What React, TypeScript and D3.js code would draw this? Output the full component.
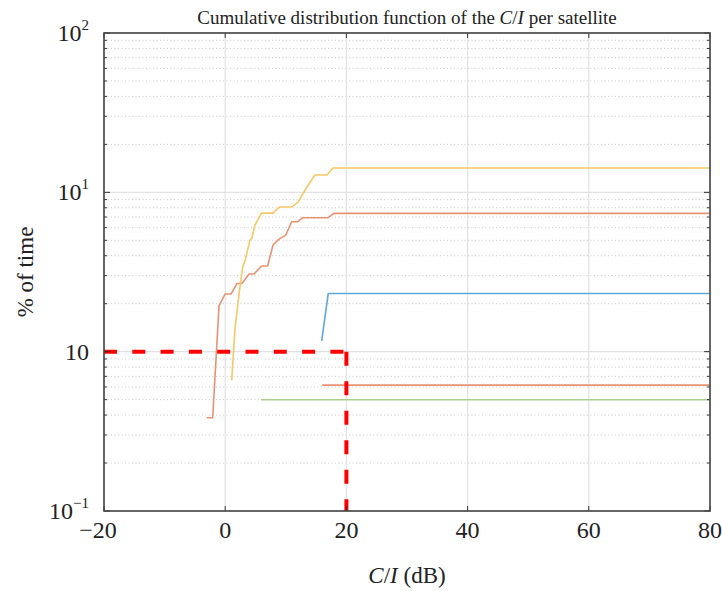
import React from "react";
import * as d3 from "d3";

const xTicks = [-20, 0, 20, 40, 60, 80];
const xTickLabels = ["−20", "0", "20", "40", "60", "80"];
const yTicks = [0.1, 1, 10, 100];
const yTickBase = ["10", "10", "10", "10"];
const yTickExp = ["−1", "", "1", "2"];

const yellowX = [1.07, 1.6, 2.3, 2.9, 3.3, 4.1, 4.4, 4.9, 6.0, 7.9, 8.9, 11.0, 12.0, 13.5, 14.8, 16.8, 17.8, 80];
const yellowY = [0.66, 1.37, 2.33, 3.4, 3.76, 5.02, 5.17, 6.23, 7.41, 7.41, 8.09, 8.09, 8.69, 10.8, 12.85, 12.85, 14.2, 14.2];

const salmonX = [-3.05, -2.06, -1.02, -0.03, 0.96, 1.95, 2.77, 3.93, 4.75, 6.02, 7.01, 7.89, 8.88, 9.98, 10.97, 11.96, 12.84, 16.96, 17.95, 80];
const salmonY = [0.385, 0.385, 1.94, 2.3, 2.3, 2.68, 2.68, 3.07, 3.07, 3.45, 3.45, 4.67, 5.09, 5.39, 6.54, 6.54, 6.93, 6.93, 7.38, 7.38];

const blueX = [15.92, 17.01, 80];
const blueY = [1.17, 2.32, 2.32];

const salmon2X = [16, 80];
const salmon2Y = [0.617, 0.617];

const greenX = [5.9, 80];
const greenY = [0.499, 0.499];

const refHX = [-20, 20];
const refHY = [1, 1];
const refVX = [20, 20];
const refVY = [1, 0.1];

const series = [
  { xs: greenX, ys: greenY, color: "#a9d08e" },
  { xs: salmon2X, ys: salmon2Y, color: "#e99273" },
  { xs: blueX, ys: blueY, color: "#5ea7d8" },
  { xs: salmonX, ys: salmonY, color: "#e99273" },
  { xs: yellowX, ys: yellowY, color: "#f7c768" },
];

export default function App() {
  const W = 722, H = 591;
  const L = 104, R = 710, T = 33, B = 511;
  const x = d3.scaleLinear().domain([-20, 80]).range([L, R]);
  const y = d3.scaleLog().domain([0.1, 100]).range([B, T]);

  const minors: number[] = [];
  for (let d = 0.1; d < 100; d *= 10) {
    for (let k = 2; k <= 9; k++) minors.push(+(d * k).toPrecision(3));
  }

  const line = (xs: number[], ys: number[]) =>
    d3.line<number>().x((_, i) => x(xs[i])).y((_, i) => y(ys[i]))(xs.map((v) => v)) || "";

  const serif = "'Liberation Serif', 'Times New Roman', serif";

  return (
    <svg width={W} height={H} style={{ position: "absolute", left: 0, top: 0, background: "#fff" }}>
      <rect x={0} y={0} width={W} height={H} fill="#fff" />
      {/* minor grid */}
      {minors.map((m) => (
        <line key={"mg" + m} x1={L} x2={R} y1={y(m)} y2={y(m)} stroke="#c8c8c8" strokeWidth={1} strokeDasharray="1,2.5" />
      ))}
      {/* major grid */}
      {yTicks.map((t) => (
        <line key={"yg" + t} x1={L} x2={R} y1={y(t)} y2={y(t)} stroke="#e2e2e2" strokeWidth={1.2} />
      ))}
      {xTicks.map((t) => (
        <line key={"xg" + t} x1={x(t)} x2={x(t)} y1={T} y2={B} stroke="#e2e2e2" strokeWidth={1.2} />
      ))}
      {/* series */}
      {series.map((s, i) => (
        <path key={"s" + i} d={line(s.xs, s.ys)} fill="none" stroke={s.color} strokeWidth={1.6} strokeLinejoin="round" />
      ))}
      {/* reference dashed */}
      <path d={line(refHX, refHY)} fill="none" stroke="#ff0000" strokeWidth={4} strokeDasharray="13,15.3" />
      <path d={line(refVX, refVY)} fill="none" stroke="#ff0000" strokeWidth={4} strokeDasharray="14,15.5" />
      {/* ticks */}
      {minors.map((m) => (
        <g key={"mt" + m}>
          <line x1={L} x2={L + 3} y1={y(m)} y2={y(m)} stroke="#333" strokeWidth={1} />
          <line x1={R} x2={R - 3} y1={y(m)} y2={y(m)} stroke="#333" strokeWidth={1} />
        </g>
      ))}
      {yTicks.map((t) => (
        <g key={"yt" + t}>
          <line x1={L} x2={L + 6} y1={y(t)} y2={y(t)} stroke="#333" strokeWidth={1} />
          <line x1={R} x2={R - 6} y1={y(t)} y2={y(t)} stroke="#333" strokeWidth={1} />
        </g>
      ))}
      {xTicks.map((t) => (
        <g key={"xt" + t}>
          <line x1={x(t)} x2={x(t)} y1={B} y2={B - 5} stroke="#333" strokeWidth={1} />
          <line x1={x(t)} x2={x(t)} y1={T} y2={T + 5} stroke="#333" strokeWidth={1} />
        </g>
      ))}
      {/* frame */}
      <rect x={L} y={T} width={R - L} height={B - T} fill="none" stroke="#444" strokeWidth={1.6} />
      {/* x tick labels */}
      {xTicks.map((t, i) => (
        <text key={"xl" + t} x={x(t) - (i === 0 ? 6 : 0)} y={538} textAnchor="middle" fontFamily={serif} fontSize={24} fill="#222">
          {xTickLabels[i]}
        </text>
      ))}
      {/* y tick labels */}
      {yTicks.map((t, i) => (
        <text key={"yl" + t} x={89} y={y(t) + 8} textAnchor="end" fontFamily={serif} fontSize={24} fill="#222">
          {yTickBase[i]}
          {yTickExp[i] ? (
            <tspan dy={-11} fontSize={15}>{yTickExp[i]}</tspan>
          ) : null}
        </text>
      ))}
      {/* title */}
      <text x={(L + R) / 2} y={24} textAnchor="middle" fontFamily={serif} fontSize={19} fill="#222">
        Cumulative distribution function of the <tspan fontStyle="italic">C</tspan>/<tspan fontStyle="italic">I</tspan> per satellite
      </text>
      {/* axis labels */}
      <text x={(L + R) / 2} y={583} textAnchor="middle" fontFamily={serif} fontSize={23} fill="#222">
        <tspan fontStyle="italic">C</tspan>/<tspan fontStyle="italic">I</tspan> (dB)
      </text>
      <text transform={`translate(33,${(T + B) / 2}) rotate(-90)`} textAnchor="middle" fontFamily={serif} fontSize={23} fill="#222">
        % of time
      </text>
    </svg>
  );
}
